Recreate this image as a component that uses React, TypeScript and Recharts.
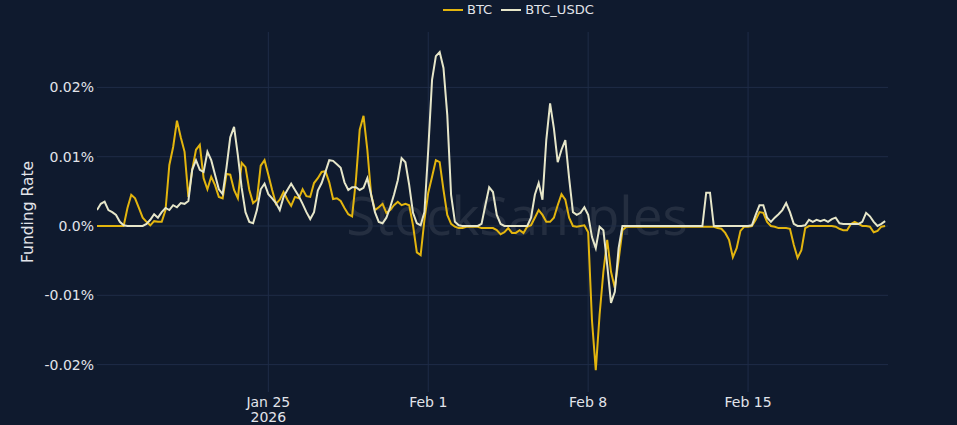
import { LineChart, Line, XAxis, YAxis, CartesianGrid } from 'recharts';

// funding rate samples every 4 hours, starting Jan 17 2026 12:00 UTC
const START = Date.UTC(2026, 0, 17, 12);
const STEP_MS = 4 * 3600 * 1000;
const END = Date.UTC(2026, 1, 21, 3);

const xTicks = [Date.UTC(2026, 0, 25), Date.UTC(2026, 1, 1), Date.UTC(2026, 1, 8), Date.UTC(2026, 1, 15)];
const xTickLabels = ['Jan 25', 'Feb 1', 'Feb 8', 'Feb 15'];
const yTicks = [-0.02, -0.01, 0, 0.01, 0.02];

// values in %
const btc = [
    0, 0, 0, 0, 0, 0,
    0, 0, 0.0026, 0.0045, 0.004, 0.0026,
    0.0012, 0.0006, 0.0001, 0.0007, 0.0006, 0.0006,
    0.0023, 0.0088, 0.0114, 0.0152, 0.0128, 0.0107,
    0.0042, 0.0081, 0.011, 0.0117, 0.0069, 0.0053,
    0.0071, 0.0059, 0.0042, 0.004, 0.0075, 0.0074,
    0.0052, 0.004, 0.0091, 0.0085, 0.0052, 0.0033,
    0.0038, 0.0087, 0.0095, 0.0074, 0.0052, 0.0032,
    0.0038, 0.0049, 0.0038, 0.0029, 0.0042, 0.004,
    0.0053, 0.0043, 0.0042, 0.0062, 0.0069, 0.0078,
    0.0079, 0.0063, 0.0039, 0.004, 0.0036, 0.0026,
    0.0017, 0.0014, 0.0066, 0.0139, 0.0159, 0.011,
    0.0045, 0.0023, 0.0027, 0.0032, 0.0019, 0.0023,
    0.003, 0.0035, 0.003, 0.0032, 0.003, 0.0001,
    -0.0038, -0.0042, 0.0009, 0.0048, 0.0071, 0.0095,
    0.0092, 0.0052, 0.0016, 0.0003, -0.0001, -0.0003,
    -0.0003, -0.0001, -0.0001, -0.0001, -0.0001, -0.0003,
    -0.0003, -0.0003, -0.0003, -0.0006, -0.0012, -0.0009,
    -0.0003, -0.001, -0.001, -0.0006, -0.001, -0.0001,
    0.0001, 0.0012, 0.0023, 0.0016, 0.0006, 0.0006,
    0.0012, 0.003, 0.0046, 0.0038, 0.0012, 0,
    -0.0001, 0, 0.0001, -0.0009, -0.0136, -0.0208,
    -0.0128, -0.0066, -0.002, -0.0066, -0.0089, -0.0049,
    -0.0006, -0.0001, -0.0001, -0.0001, -0.0001, -0.0001,
    -0.0001, -0.0001, -0.0001, -0.0001, -0.0001, -0.0001,
    -0.0001, -0.0001, -0.0001, -0.0001, -0.0001, -0.0001,
    -0.0001, -0.0001, -0.0001, -0.0001, -0.0001, -0.0001,
    -0.0001, -0.0003, -0.0004, -0.001, -0.002, -0.0045,
    -0.0032, -0.0007, -0.0001, -0.0001, 0, 0.0009,
    0.002, 0.0019, 0.0006, 0, -0.0001, -0.0003,
    -0.0003, -0.0003, -0.0004, -0.0027, -0.0046, -0.0035,
    -0.0003, 0, 0, 0, 0, 0,
    0, 0, -0.0001, -0.0004, -0.0006, -0.0006,
    0.0003, 0.0006, 0.0003, 0, 0, -0.0001,
    -0.0009, -0.0007, -0.0001, 0,
];

const btcUsdc = [
    0.0023, 0.0032, 0.0035, 0.0023, 0.002, 0.0016,
    0.0006, 0.0001, 0, 0, 0, 0,
    0, 0.0003, 0.0009, 0.0017, 0.0012, 0.002,
    0.0026, 0.0023, 0.003, 0.0027, 0.0033, 0.0032,
    0.0036, 0.0081, 0.0095, 0.0081, 0.0078, 0.0107,
    0.0095, 0.0074, 0.0053, 0.0046, 0.0084, 0.0128,
    0.0143, 0.0102, 0.0055, 0.002, 0.0006, 0.0004,
    0.0023, 0.0053, 0.0061, 0.0046, 0.004, 0.0033,
    0.0023, 0.0042, 0.0052, 0.0061, 0.0052, 0.0043,
    0.0032, 0.002, 0.001, 0.002, 0.0051, 0.0062,
    0.0078, 0.0095, 0.0094, 0.0089, 0.0084, 0.0063,
    0.0052, 0.0056, 0.0056, 0.0052, 0.0055, 0.0069,
    0.0045, 0.002, 0.0006, 0.0004, 0.0012, 0.0027,
    0.0045, 0.0066, 0.0098, 0.0092, 0.0059, 0.0019,
    0.0004, 0.0001, 0.002, 0.011, 0.0211, 0.0245,
    0.0251, 0.0228, 0.016, 0.0045, 0.0006, 0.0001,
    0, 0, 0, 0, 0, 0.0003,
    0.003, 0.0056, 0.0049, 0.0016, 0.0003, 0,
    0, 0, 0, 0, 0, 0,
    0.0012, 0.0045, 0.0062, 0.0038, 0.0124, 0.0177,
    0.0141, 0.0092, 0.011, 0.0124, 0.0069, 0.002,
    0.0016, 0.0019, 0.0027, 0.0016, -0.0016, -0.0032,
    -0.0001, -0.0006, -0.0056, -0.0111, -0.0095, -0.0032,
    0, 0, 0, 0, 0, 0,
    0, 0, 0, 0, 0, 0,
    0, 0, 0, 0, 0, 0,
    0, 0, 0, 0, 0.0048, 0.0048,
    0, 0, 0, 0, 0, 0,
    0, 0, 0, 0, 0.0001, 0.0016,
    0.003, 0.003, 0.0012, 0.0006, 0.0012, 0.0017,
    0.0023, 0.0033, 0.002, 0.0003, 0, 0,
    0.0001, 0.0009, 0.0006, 0.0009, 0.0007, 0.0009,
    0.0006, 0.001, 0.0012, 0.0004, 0.0003, 0.0003,
    0.0003, 0.0003, 0.0003, 0.0006, 0.0019, 0.0014,
    0.0006, 0, 0.0003, 0.0007,
];

const data = btc.map((v, i) => ({ t: START + i * STEP_MS, btc: v, btcUsdc: btcUsdc[i] }));

const BG = '#0f1a2e';
const GRID = '#1f2c47';
const TEXT = '#e2e4ea';
const FONT = '"DejaVu Sans", Verdana, sans-serif';
const BTC_COLOR = '#e3b50e';
const USDC_COLOR = '#e6e6c9';

function DateTick({ x, y, payload }: any) {
    const i = xTicks.indexOf(payload.value);
    return (
        <text x={x} y={y} textAnchor="middle" fill={TEXT} fontSize={14} fontFamily={FONT}>
            <tspan x={x} dy="0.71em">{xTickLabels[i]}</tspan>
            {i === 0 && <tspan x={x} dy={15}>2026</tspan>}
        </text>
    );
}

function LegendItem({ color, label }: { color: string; label: string }) {
    return (
        <div style={{ display: 'flex', alignItems: 'center', marginRight: 8 }}>
            <svg width={22} height={10}>
                <line x1={1} y1={5} x2={21} y2={5} stroke={color} strokeWidth={2} />
            </svg>
            <span style={{ marginLeft: 3 }}>{label}</span>
        </div>
    );
}

export default function App() {
    return (
        <div style={{ position: 'absolute', left: 0, top: 0, width: 957, height: 425, background: BG, overflow: 'hidden' }}>
            {/* watermark */}
            <div
                style={{
                    position: 'absolute', left: 0, width: 1034, top: 178, textAlign: 'center',
                    fontFamily: '"Open Sans", sans-serif', fontSize: 53, color: 'rgba(255,255,255,0.09)'
                }}
            >
                StockSamples
            </div>
            <div
                style={{
                    position: 'absolute', top: 2, left: 442, display: 'flex', fontFamily: FONT,
                    fontSize: 13, color: TEXT, lineHeight: '16px'
                }}
            >
                <LegendItem color={BTC_COLOR} label="BTC" />
                <LegendItem color={USDC_COLOR} label="BTC_USDC" />
            </div>
            <div style={{ position: 'absolute', left: 0, top: 0 }}>
                <LineChart width={957} height={425} data={data} margin={{ top: 32, right: 69, bottom: 0, left: 0 }}>
                    <CartesianGrid stroke={GRID} strokeWidth={1} horizontalValues={yTicks} verticalValues={xTicks} />
                    <XAxis
                        dataKey="t"
                        type="number"
                        domain={[START, END]}
                        ticks={xTicks}
                        interval={0}
                        allowDataOverflow
                        tick={<DateTick />}
                        tickLine={false}
                        axisLine={false}
                        tickSize={0}
                        tickMargin={5}
                        height={33}
                    />
                    <YAxis
                        type="number"
                        domain={[-0.02395, 0.02799]}
                        ticks={yTicks}
                        interval={0}
                        allowDataOverflow
                        width={97}
                        tickLine={false}
                        axisLine={false}
                        tickSize={0}
                        tickMargin={3}
                        tick={{ fill: TEXT, fontSize: 14, fontFamily: FONT }}
                        tickFormatter={(v: number) => (v === 0 ? '0.0%' : `${v.toFixed(2)}%`)}
                        label={{
                            value: 'Funding Rate',
                            angle: -90,
                            position: 'insideLeft',
                            offset: 27,
                            style: { textAnchor: 'middle', fill: TEXT, fontSize: 15.5, fontFamily: FONT }
                        }}
                    />
                    <Line
                        type="linear"
                        dataKey="btc"
                        name="BTC"
                        stroke={BTC_COLOR}
                        strokeWidth={2}
                        dot={false}
                        isAnimationActive={false}
                    />
                    <Line
                        type="linear"
                        dataKey="btcUsdc"
                        name="BTC_USDC"
                        stroke={USDC_COLOR}
                        strokeWidth={2}
                        dot={false}
                        isAnimationActive={false}
                    />
                </LineChart>
            </div>
        </div>
    );
}
